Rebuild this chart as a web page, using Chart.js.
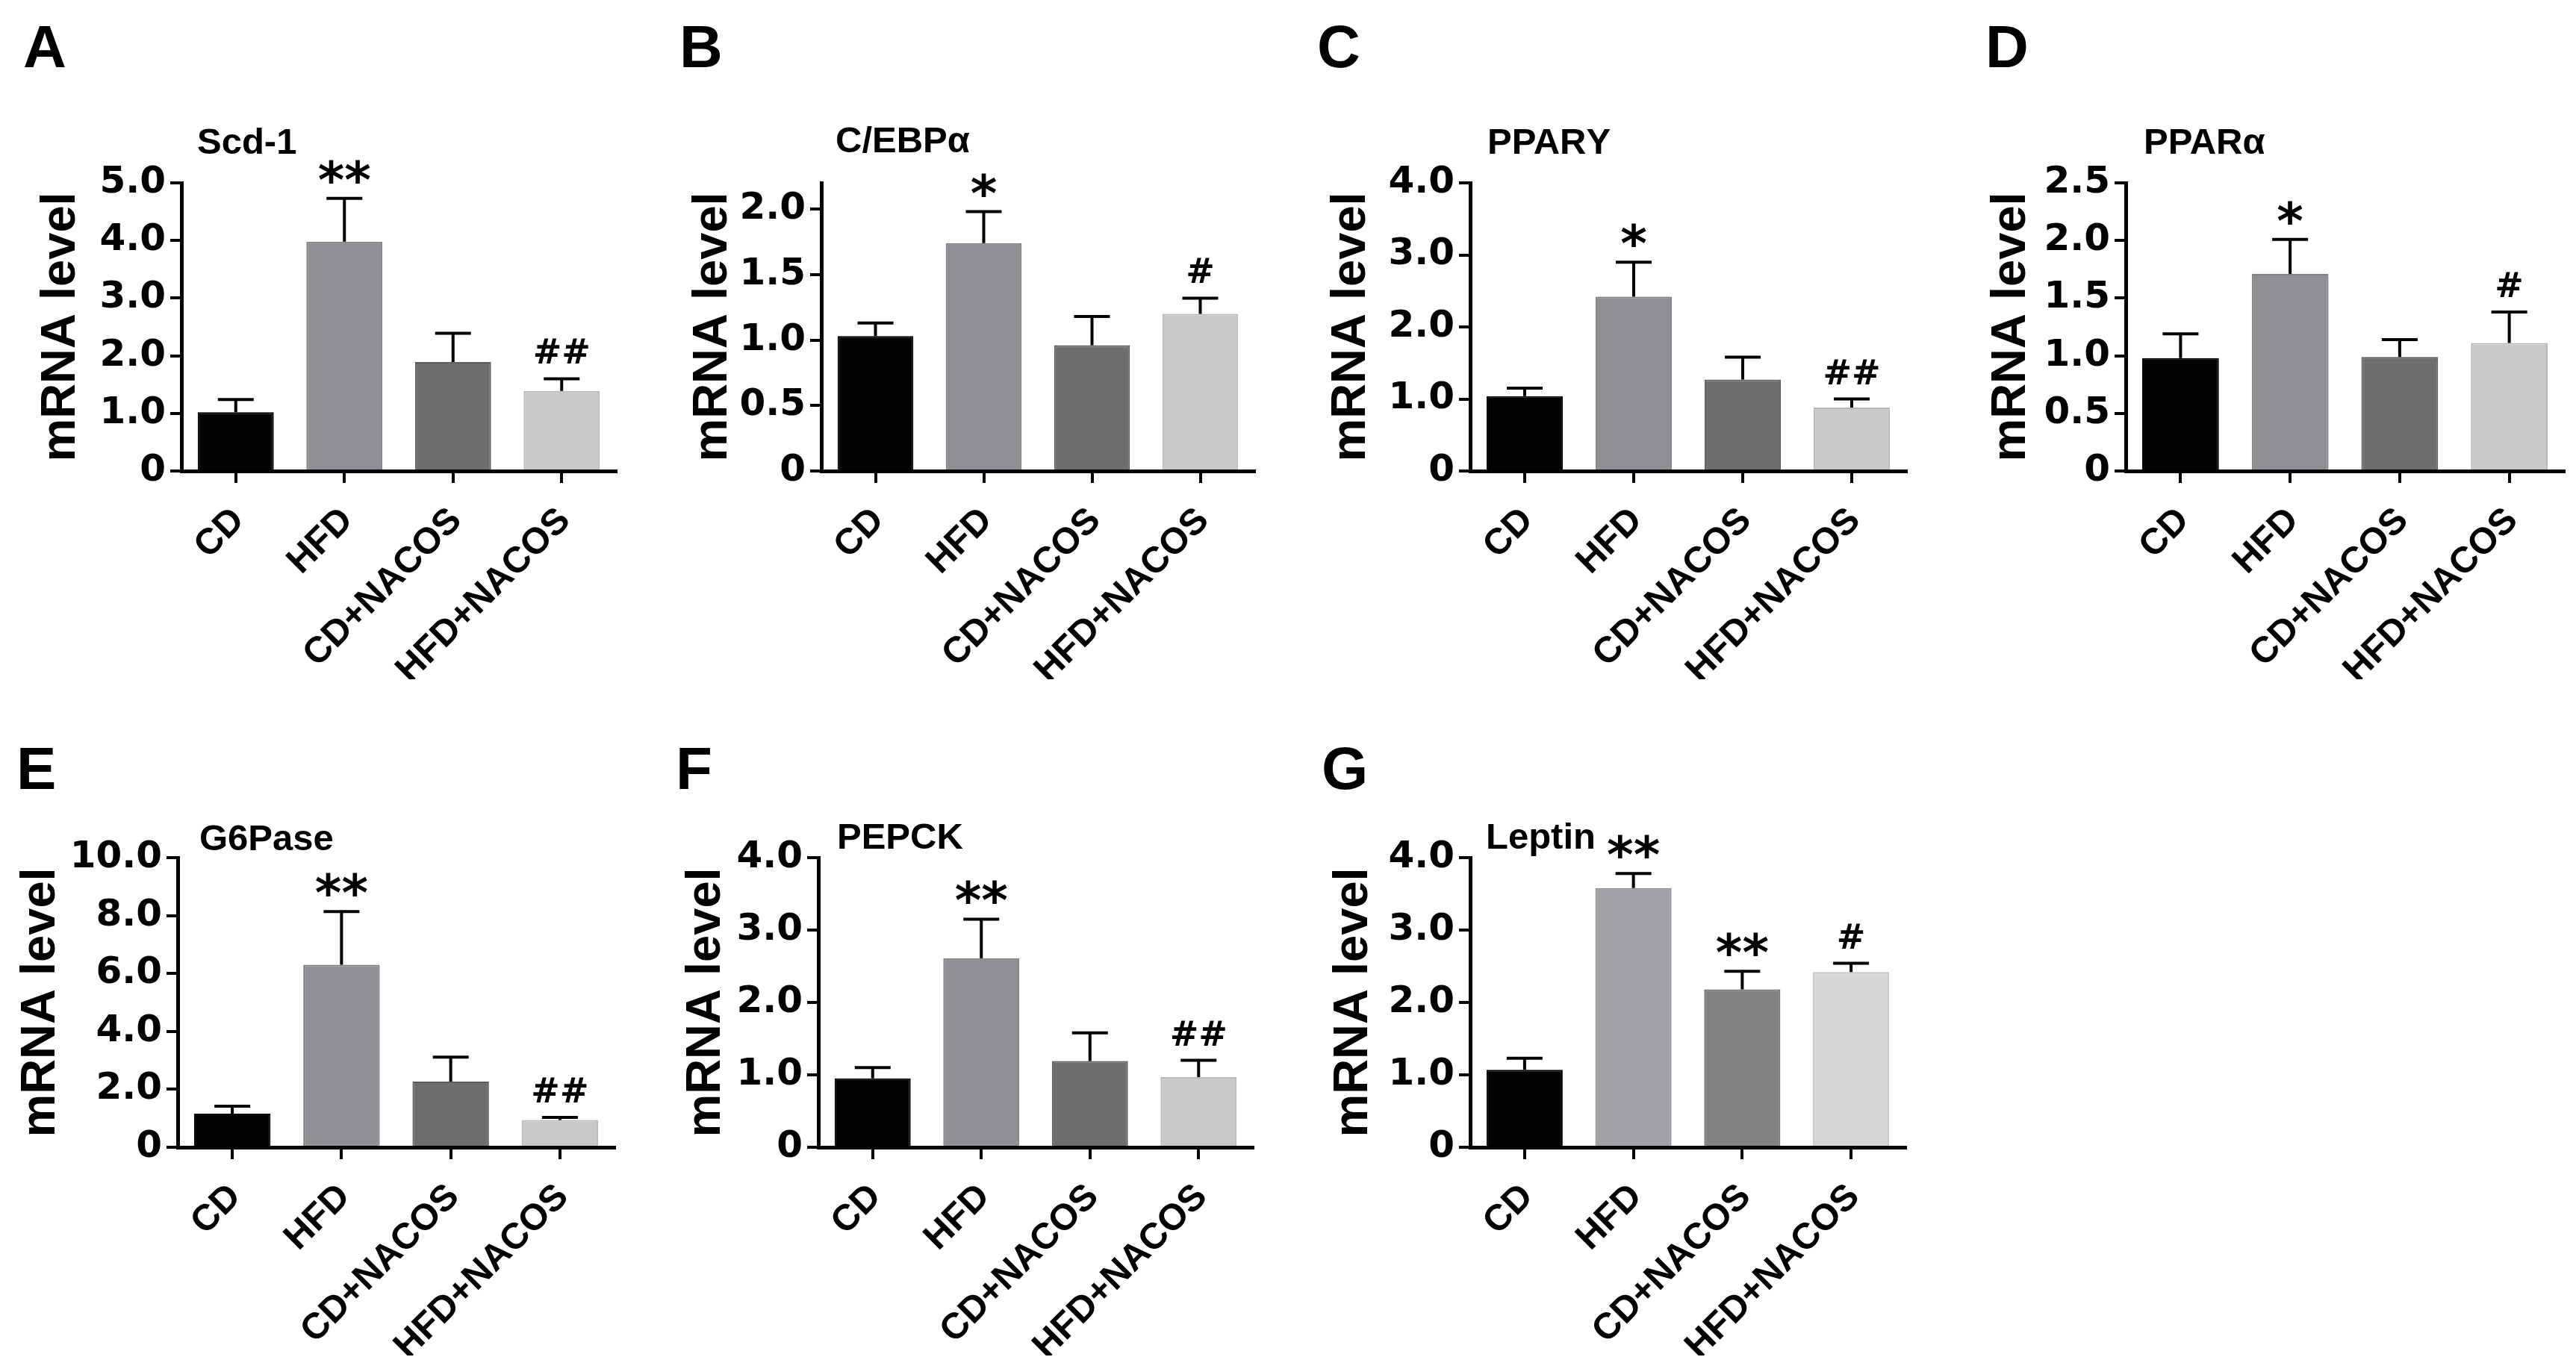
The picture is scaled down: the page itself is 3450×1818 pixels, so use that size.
<!DOCTYPE html>
<html lang="en">
<head>
  <meta charset="UTF-8">
  <title>mRNA level panels</title>
  <script src="https://cdn.jsdelivr.net/npm/chart.js@4.4.1/dist/chart.umd.min.js"></script>
  <style>
    body { margin: 0; background: #fff; }
    #fig { position: relative; width: 3450px; height: 1818px; overflow: hidden;
           font-family: "Liberation Sans", Arial, sans-serif; font-weight: bold; color: #000; }
    #fig canvas { position: absolute; }
    .letter, .gene { position: absolute; line-height: 1; white-space: nowrap; }
    .letter { font-size: 80px; }
    .gene { font-size: 49px; }
  </style>
</head>
<body>
  <div id="fig"></div>

  <script>
    // groups on the x axis
    const groups = ['CD', 'HFD', 'CD+NACOS', 'HFD+NACOS'];

    // values (mean, upper error, significance marks)
    const scd1Mean = [1.02, 3.98, 1.89, 1.39];
    const scd1Err = [0.22, 0.75, 0.50, 0.21];
    const scd1Marks = ['', '**', '', '##'];
    const scd1Ticks = [0, 1, 2, 3, 4, 5];

    const cebpaMean = [1.03, 1.74, 0.96, 1.20];
    const cebpaErr = [0.10, 0.24, 0.22, 0.12];
    const cebpaMarks = ['', '*', '', '#'];
    const cebpaTicks = [0, 0.5, 1.0, 1.5, 2.0];

    const ppargMean = [1.04, 2.42, 1.27, 0.88];
    const ppargErr = [0.11, 0.48, 0.31, 0.12];
    const ppargMarks = ['', '*', '', '##'];
    const ppargTicks = [0, 1, 2, 3, 4];

    const pparaMean = [0.98, 1.71, 0.99, 1.11];
    const pparaErr = [0.21, 0.30, 0.15, 0.27];
    const pparaMarks = ['', '*', '', '#'];
    const pparaTicks = [0, 0.5, 1.0, 1.5, 2.0, 2.5];

    const g6paseMean = [1.16, 6.30, 2.27, 0.94];
    const g6paseErr = [0.26, 1.84, 0.84, 0.09];
    const g6paseMarks = ['', '**', '', '##'];
    const g6paseTicks = [0, 2, 4, 6, 8, 10];

    const pepckMean = [0.95, 2.61, 1.19, 0.97];
    const pepckErr = [0.15, 0.54, 0.39, 0.23];
    const pepckMarks = ['', '**', '', '##'];
    const pepckTicks = [0, 1, 2, 3, 4];

    const leptinMean = [1.07, 3.58, 2.18, 2.42];
    const leptinErr = [0.16, 0.20, 0.25, 0.12];
    const leptinMarks = ['', '**', '**', '#'];
    const leptinTicks = [0, 1, 2, 3, 4];

    const barFill = ['#030303', '#8f8f94', '#6e6e6e', '#c9c9c9'];
    const barEdge = ['#000000', '#7d7d82', '#5e5e5e', '#b8b8b8'];
    const leptinFill = ['#030303', '#a2a2a6', '#828282', '#d6d6d6'];
    const leptinEdge = ['#000000', '#909094', '#707070', '#c4c4c4'];

    const FONT = '"Liberation Sans", Arial, sans-serif';
    const TICK_FONT = '"DejaVu Sans", "Liberation Sans", sans-serif';
    Chart.defaults.font.family = FONT;
    Chart.defaults.color = '#000';

    // area = [left, right, top, bottom] of the plot box on the page
    const panels = [
      { letter: 'A', gene: 'Scd-1', mean: scd1Mean, err: scd1Err, marks: scd1Marks, ticks: scd1Ticks, max: 5,
        fill: barFill, edge: barEdge, area: [243, 825, 245, 631], letterAt: [31, 91], geneAt: [264, 206], labelDist: 161 },
      { letter: 'B', gene: 'C/EBPα', mean: cebpaMean, err: cebpaErr, marks: cebpaMarks, ticks: cebpaTicks, max: 2.2,
        fill: barFill, edge: barEdge, area: [1100, 1680, 245, 631], letterAt: [910, 91], geneAt: [1119, 204], labelDist: 145 },
      { letter: 'C', gene: 'PPARΥ', mean: ppargMean, err: ppargErr, marks: ppargMarks, ticks: ppargTicks, max: 4,
        fill: barFill, edge: barEdge, area: [1969, 2553, 245, 631], letterAt: [1764, 91], geneAt: [1992, 206], labelDist: 159 },
      { letter: 'D', gene: 'PPARα', mean: pparaMean, err: pparaErr, marks: pparaMarks, ticks: pparaTicks, max: 2.5,
        fill: barFill, edge: barEdge, area: [2847, 3434, 245, 631], letterAt: [2659, 91], geneAt: [2871, 206], labelDist: 153 },
      { letter: 'E', gene: 'G6Pase', mean: g6paseMean, err: g6paseErr, marks: g6paseMarks, ticks: g6paseTicks, max: 10,
        fill: barFill, edge: barEdge, area: [238, 823, 1149, 1537], letterAt: [22, 1058], geneAt: [267, 1139], labelDist: 183 },
      { letter: 'F', gene: 'PEPCK', mean: pepckMean, err: pepckErr, marks: pepckMarks, ticks: pepckTicks, max: 4,
        fill: barFill, edge: barEdge, area: [1096, 1678, 1149, 1537], letterAt: [905, 1058], geneAt: [1121, 1137], labelDist: 150 },
      { letter: 'G', gene: 'Leptin', mean: leptinMean, err: leptinErr, marks: leptinMarks, ticks: leptinTicks, max: 4,
        fill: leptinFill, edge: leptinEdge, area: [1969, 2552, 1149, 1537], letterAt: [1770, 1058], geneAt: [1990, 1137], labelDist: 156 }
    ];

    const Y_BOX = 225;   // width of y axis box (labels + title)
    const PAD_TOP = 95;
    const X_BOX = 279;   // height of x axis box
    const PAD_RIGHT = 30;

    // upper error whisker with cap, and significance marks above it
    const errorBarPlugin = {
      id: 'errorBars',
      afterDatasetsDraw(chart) {
        const ctx = chart.ctx;
        const y = chart.scales.y;
        const ds = chart.data.datasets[0];
        const meta = chart.getDatasetMeta(0);
        ctx.save();
        ctx.strokeStyle = '#000';
        ctx.fillStyle = '#000';
        ctx.lineWidth = 4;
        meta.data.forEach((bar, i) => {
          const yBar = y.getPixelForValue(ds.data[i]);
          const yTop = y.getPixelForValue(ds.data[i] + ds.errors[i]);
          ctx.beginPath();
          ctx.moveTo(bar.x, yBar);
          ctx.lineTo(bar.x, yTop);
          ctx.moveTo(bar.x - 24, yTop);
          ctx.lineTo(bar.x + 24, yTop);
          ctx.stroke();

          const mark = ds.marks[i];
          if (mark) {
            const star = mark[0] === '*';
            ctx.font = star ? 'bold 68px "DejaVu Sans"' : 'bold 46px "DejaVu Sans"';
            ctx.textAlign = 'center';
            ctx.textBaseline = 'alphabetic';
            const m = ctx.measureText(mark);
            ctx.fillText(mark, bar.x, yTop - 20 - m.actualBoundingBoxDescent);
          }
        });
        ctx.restore();
      }
    };

    const fig = document.getElementById('fig');

    function addText(cls, text, x, baseline, size) {
      const d = document.createElement('div');
      d.className = cls;
      d.textContent = text;
      d.style.left = x + 'px';
      d.style.top = (baseline - 0.8465 * size) + 'px';
      fig.appendChild(d);
    }

    panels.forEach(p => {
      const [left, right, top, bottom] = p.area;
      const canvas = document.createElement('canvas');
      canvas.width = Y_BOX + (right - left) + PAD_RIGHT;
      canvas.height = PAD_TOP + (bottom - top) + X_BOX;
      canvas.style.left = (left - Y_BOX) + 'px';
      canvas.style.top = (top - PAD_TOP) + 'px';
      fig.appendChild(canvas);

      new Chart(canvas, {
        type: 'bar',
        data: {
          labels: groups,
          datasets: [{
            data: p.mean,
            errors: p.err,
            marks: p.marks,
            backgroundColor: p.fill,
            borderColor: p.edge,
            borderWidth: 2,
            barPercentage: 0.70,
            categoryPercentage: 1.0
          }]
        },
        options: {
          responsive: false,
          animation: false,
          devicePixelRatio: 1,
          layout: { padding: { left: 0, right: PAD_RIGHT, top: PAD_TOP, bottom: 0 } },
          plugins: { legend: { display: false }, tooltip: { enabled: false } },
          scales: {
            x: {
              offset: true,
              grid: { display: true, drawOnChartArea: false, drawTicks: true, tickLength: 16,
                      offset: false, color: '#000', lineWidth: 4 },
              border: { display: true, color: '#000', width: 5 },
              ticks: { color: '#000', font: { size: 49, weight: 'bold' }, minRotation: 45, maxRotation: 45,
                       padding: 22, labelOffset: 4, autoSkip: false },
              afterFit: s => { s.height = X_BOX; }
            },
            y: {
              min: 0,
              max: p.max,
              grid: { display: true, drawOnChartArea: false, drawTicks: true, tickLength: 15,
                      color: '#000', lineWidth: 4 },
              border: { display: true, color: '#000', width: 5 },
              ticks: { color: '#000', font: { family: TICK_FONT, size: 50, weight: 'bold' }, padding: 6,
                       callback: v => (v === 0 ? '0' : v.toFixed(1)) },
              afterBuildTicks: s => { s.ticks = p.ticks.map(v => ({ value: v })); },
              title: { display: true, text: 'mRNA level', color: '#000',
                       font: { size: 65, weight: 'bold' },
                       padding: { top: 186 - p.labelDist, bottom: 0 } },
              afterFit: s => { s.width = Y_BOX; }
            }
          }
        },
        plugins: [errorBarPlugin]
      });

      addText('letter', p.letter, p.letterAt[0], p.letterAt[1], 80);
      addText('gene', p.gene, p.geneAt[0], p.geneAt[1], 49);
    });
  </script>
</body>
</html>
